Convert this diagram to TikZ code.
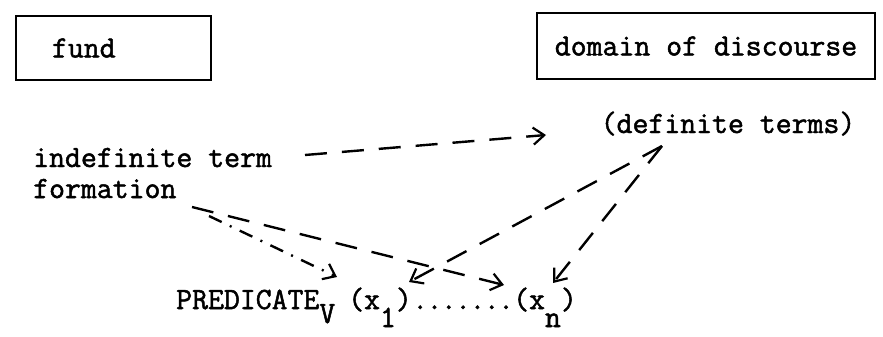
\documentclass[tikz,border=0pt]{standalone}
\usepackage{fontspec}
\newfontfamily\tw{Latin Modern Mono}[FakeBold=1.6]
\usetikzlibrary{arrows.meta}
\newcommand\dd{.\kern-1.6pt}
\begin{document}
\begin{tikzpicture}[x=1pt,y=-1pt,
  txt/.style={font=\tw\fontsize{30.9}{31}\selectfont, inner sep=0pt},
  box/.style={draw, line width=2pt},
  tip/.style={-{Straight Barb[length=11pt,width=17pt,line width=2.2pt]}},
  dsh/.style={tip, line width=2.4pt, dash pattern=on 22pt off 15pt},
  dshdot/.style={tip, line width=2.4pt, dash pattern=on 14pt off 9pt on 2pt off 9pt}]
\useasboundingbox (0,0) rectangle (883,337);

% boxes
\node[txt, box, minimum width=195pt, minimum height=64pt, text width=123pt,
      inner xsep=36pt, align=left] (fund) at (113.5,48) {fund};
\node[txt, box, minimum width=338pt, minimum height=65pt] (domain) at (706,46) {domain of discourse};

% labels
\node[txt, anchor=base] (def) at (728,133) {(definite terms)};
\node[txt, anchor=base west] (indef) at (33,167) {indefinite term};
\node[txt, anchor=base west] (form) at (33,198) {formation};

% formula line
\node[txt, anchor=base west] (pred) at (176,309) {PREDICATE\raisebox{-14pt}{V}};
\node[txt, anchor=base west] (xone) at (348,309) {(x\raisebox{-18pt}{1})};
\node[txt, anchor=base west] (dots) at (412,309) {\dd\dd\dd\dd\dd\dd.};
\node[txt, anchor=base west] (xn) at (513,309) {(x\raisebox{-18pt}{n})};

% connector end points
\coordinate (indefout) at (305,155);
\coordinate (defin) at (546,135);
\coordinate (defout) at (662,146);
\coordinate (formout) at (192,207);
\coordinate (formout2) at (209,216);
\coordinate (xonein) at (409,282);
\coordinate (xnin) at (553,283);
\coordinate (xnin2) at (504,285);
\coordinate (predin) at (337,277);

% connectors
\draw[dsh] (indefout) -- (defin);
\draw[dsh] (defout) -- (xonein);
\draw[dsh] (defout) -- (xnin);
\draw[dsh] (formout) -- (xnin2);
\draw[dshdot] (formout2) -- (predin);
\end{tikzpicture}
\end{document}
